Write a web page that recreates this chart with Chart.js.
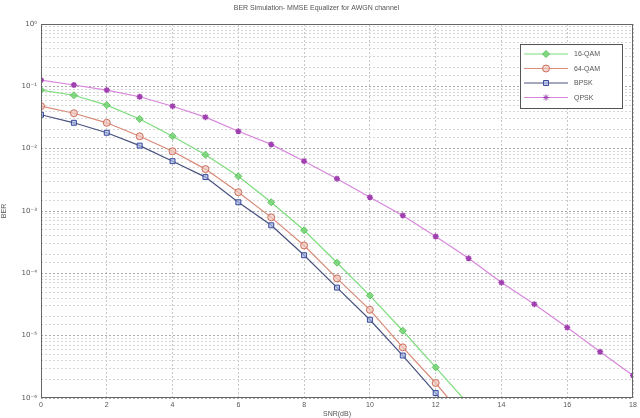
<!DOCTYPE html>
<html>
<head>
<meta charset="utf-8">
<script src="https://cdn.jsdelivr.net/npm/chart.js@4/dist/chart.umd.min.js"></script>
<style>
  html, body { margin: 0; padding: 0; background: #fff; }
  #wrap { width: 640px; height: 418px; }
</style>
</head>
<body>
<div id="wrap"><canvas id="berChart" width="640" height="418"></canvas></div>
<script>
// DATA
const snrDb = [0, 1, 2, 3, 4, 5, 6, 7, 8, 9, 10, 11, 12, 13, 14, 15, 16, 17, 18];
const ber16qam = [0.087, 0.072, 0.050, 0.030, 0.0158, 0.0080, 0.0036, 0.00138, 4.9e-4, 1.48e-4, 4.4e-5, 1.2e-5, 3.1e-6, 7.9e-7];
const ber64qam = [0.048, 0.037, 0.026, 0.0158, 0.0091, 0.0047, 0.0020, 7.9e-4, 2.8e-4, 8.3e-5, 2.6e-5, 6.5e-6, 1.74e-6, 4.0e-7];
const berBpsk = [0.035, 0.026, 0.018, 0.0112, 0.0063, 0.0035, 0.00138, 5.9e-4, 1.95e-4, 5.9e-5, 1.8e-5, 4.8e-6, 1.2e-6, 2.5e-7];
const berQpsk = [0.126, 0.105, 0.087, 0.068, 0.048, 0.032, 0.019, 0.0117, 0.0063, 0.0033, 0.00166, 8.5e-4, 3.9e-4, 1.74e-4, 7.1e-5, 3.2e-5, 1.35e-5, 5.5e-6, 2.3e-6];
const seriesNames = ['16-QAM', '64-QAM', 'BPSK', 'QPSK'];
const xTicks = [0, 2, 4, 6, 8, 10, 12, 14, 16, 18];
const yDecadeLabels = { '-6': '10\u207B\u2076', '-5': '10\u207B\u2075', '-4': '10\u207B\u2074', '-3': '10\u207B\u00B3', '-2': '10\u207B\u00B2', '-1': '10\u207B\u00B9', '0': '10\u2070' };

const toPts = arr => arr.map((v, i) => ({ x: snrDb[i], y: v }));

const FONT = "'Liberation Sans', Arial, sans-serif";
const SUPFONT = "'DejaVu Sans', sans-serif";

function isDecade(v) {
  const l = Math.log10(v);
  return Math.abs(l - Math.round(l)) < 1e-6;
}

// box around plot + matlab style legend
const boxAndLegend = {
  id: 'boxAndLegend',
  afterDatasetsDraw(chart) {
    const { ctx, chartArea: a } = chart;
    ctx.save();
    ctx.strokeStyle = '#666';
    ctx.lineWidth = 1;
    ctx.strokeRect(a.left + 0.5, a.top + 0.5, a.right - a.left - 1, a.bottom - a.top - 1);

    // legend
    const lx = 520, ly = 44, lw = 102, lh = 64;
    ctx.fillStyle = '#fff';
    ctx.fillRect(lx, ly, lw, lh);
    ctx.strokeStyle = '#555';
    ctx.strokeRect(lx + 0.5, ly + 0.5, lw, lh);
    ctx.font = '7px ' + FONT;
    ctx.textBaseline = 'middle';
    chart.data.datasets.forEach((ds, i) => {
      const y = ly + 10 + i * 14.5;
      ctx.strokeStyle = ds.borderColor;
      ctx.lineWidth = 1;
      ctx.beginPath();
      ctx.moveTo(lx + 4, y);
      ctx.lineTo(lx + 48, y);
      ctx.stroke();
      ctx.fillStyle = ds.pointBackgroundColor;
      ctx.strokeStyle = ds.pointBorderColor;
      Chart.helpers.drawPoint(ctx, { pointStyle: ds.pointStyle, radius: ds.pointRadius, rotation: 0, borderWidth: 1 }, lx + 26, y);
      ctx.fillStyle = '#555';
      ctx.fillText(ds.label, lx + 54, y + 0.5);
    });
    ctx.restore();
  }
};

const ctx = document.getElementById('berChart');
new Chart(ctx, {
  type: 'line',
  data: {
    datasets: [
      {
        label: seriesNames[0], data: toPts(ber16qam),
        borderColor: '#7ddc7d', borderWidth: 1.2,
        pointStyle: 'rectRot', pointRadius: 3.5,
        pointBackgroundColor: 'rgba(110,210,110,0.8)', pointBorderColor: '#5cc25c', pointBorderWidth: 1
      },
      {
        label: seriesNames[1], data: toPts(ber64qam),
        borderColor: '#d98a78', borderWidth: 1.2,
        pointStyle: 'circle', pointRadius: 3.5,
        pointBackgroundColor: 'rgba(240,200,190,0.7)', pointBorderColor: '#cc6e5c', pointBorderWidth: 1
      },
      {
        label: seriesNames[2], data: toPts(berBpsk),
        borderColor: '#48527e', borderWidth: 1.2,
        pointStyle: 'rect', pointRadius: 3.5,
        pointBackgroundColor: 'rgba(170,185,230,0.7)', pointBorderColor: '#3a4a9a', pointBorderWidth: 1
      },
      {
        label: seriesNames[3], data: toPts(berQpsk),
        borderColor: '#d886dc', borderWidth: 1.2,
        pointStyle: 'star', pointRadius: 3,
        pointBackgroundColor: '#a040b0', pointBorderColor: '#a040b0', pointBorderWidth: 1.5
      }
    ]
  },
  options: {
    responsive: false,
    animation: false,
    layout: { padding: { left: 0, right: 7, top: 0, bottom: 0 } },
    plugins: {
      legend: { display: false },
      tooltip: { enabled: false },
      title: {
        display: true,
        text: 'BER Simulation- MMSE Equalizer for AWGN channel',
        color: '#555',
        font: { family: FONT, size: 7, weight: 'normal' },
        padding: { top: 4, bottom: 11.6 }
      }
    },
    scales: {
      x: {
        type: 'linear', min: 0, max: 18,
        afterBuildTicks: s => { s.ticks = xTicks.map(v => ({ value: v })); },
        afterFit: s => { s.height = 20; },
        ticks: { color: '#555', font: { family: FONT, size: 7 }, padding: 3, maxRotation: 0 },
        grid: { color: '#c8c8c8', drawTicks: false, lineWidth: 1 },
        border: { display: false, dash: [2, 2] },
        title: { display: true, text: 'SNR(dB)', color: '#555', font: { family: FONT, size: 7 }, padding: { top: 0, bottom: 0 } }
      },
      y: {
        type: 'logarithmic', min: 1e-6, max: 1,
        afterFit: s => { s.width = 41; },
        ticks: {
          autoSkip: false,
          color: '#555',
          font: { family: SUPFONT, size: 7 },
          padding: 4,
          callback: v => isDecade(v) ? yDecadeLabels[String(Math.round(Math.log10(v)))] : ''
        },
        grid: {
          drawTicks: false,
          color: c => (c.tick && isDecade(c.tick.value)) ? '#aaa' : '#d6d6d6',
          lineWidth: 1
        },
        border: { display: false, dash: [2, 2] },
        title: { display: true, text: 'BER', color: '#555', font: { family: FONT, size: 7 }, padding: { top: 0, bottom: 4 } }
      }
    }
  },
  plugins: [boxAndLegend]
});
</script>
</body>
</html>
